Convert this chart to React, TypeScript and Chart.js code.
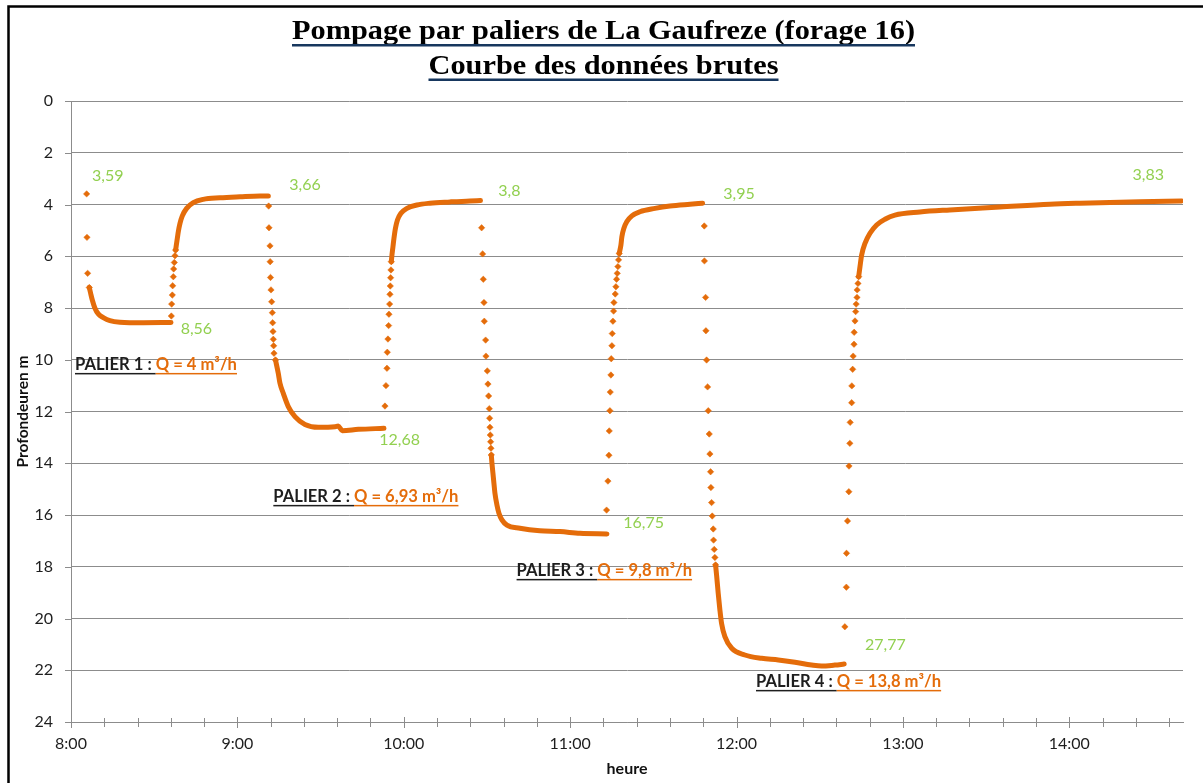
import React, { useEffect, useRef } from "react";
import { Chart, registerables } from "chart.js";

Chart.register(...registerables);

// ---------- data (time in decimal hours, depth in metres) ----------
const pompage1T = [8.094, 8.096, 8.1, 8.11, 8.118, 8.128, 8.144, 8.164, 8.194, 8.234, 8.294, 8.435, 8.601];
const pompage1D = [3.59, 5.27, 6.66, 7.21, 7.43, 7.69, 8.01, 8.23, 8.37, 8.49, 8.55, 8.57, 8.56];

const remontee1T = [8.603, 8.605, 8.609, 8.611, 8.615, 8.617, 8.621, 8.625, 8.629, 8.633, 8.639, 8.645, 8.655, 8.669, 8.695, 8.735, 8.795, 8.895, 9.016, 9.136, 9.186];
const remontee1D = [8.31, 7.85, 7.5, 7.14, 6.79, 6.49, 6.24, 5.98, 5.76, 5.57, 5.31, 5.05, 4.73, 4.44, 4.15, 3.93, 3.8, 3.74, 3.7, 3.67, 3.67];

const pompage2T = [9.188, 9.19, 9.196, 9.197, 9.199, 9.202, 9.206, 9.21, 9.212, 9.214, 9.216, 9.218, 9.22, 9.229, 9.246, 9.256, 9.276, 9.306, 9.346, 9.406, 9.486, 9.587, 9.606, 9.63, 9.727, 9.881];
const pompage2D = [4.06, 4.9, 5.6, 6.21, 6.82, 7.3, 7.76, 8.18, 8.57, 8.91, 9.21, 9.46, 9.75, 10.01, 10.53, 10.91, 11.3, 11.81, 12.2, 12.5, 12.61, 12.59, 12.56, 12.74, 12.69, 12.65];

const remontee2T = [9.887, 9.893, 9.899, 9.901, 9.905, 9.909, 9.911, 9.915, 9.917, 9.919, 9.921, 9.923, 9.925, 9.929, 9.935, 9.941, 9.95, 9.962, 9.983, 10.019, 10.079, 10.157, 10.278, 10.398, 10.461];
const remontee2D = [11.79, 11.0, 10.33, 9.71, 9.2, 8.68, 8.24, 7.85, 7.47, 7.15, 6.83, 6.53, 6.21, 5.95, 5.63, 5.31, 4.92, 4.6, 4.34, 4.15, 4.02, 3.95, 3.9, 3.86, 3.85];

const pompage3T = [10.468, 10.474, 10.478, 10.482, 10.484, 10.492, 10.494, 10.502, 10.506, 10.51, 10.514, 10.516, 10.518, 10.52, 10.522, 10.524, 10.526, 10.53, 10.536, 10.542, 10.548, 10.56, 10.572, 10.59, 10.62, 10.698, 10.818, 10.939, 11.059, 11.221];
const pompage3D = [4.9, 5.91, 6.89, 7.79, 8.51, 9.24, 9.86, 10.43, 10.94, 11.4, 11.89, 12.26, 12.61, 12.91, 13.17, 13.42, 13.68, 14.0, 14.39, 14.78, 15.16, 15.61, 15.93, 16.19, 16.39, 16.51, 16.61, 16.64, 16.71, 16.73];

const remontee3T = [11.219, 11.227, 11.233, 11.235, 11.239, 11.241, 11.245, 11.247, 11.251, 11.253, 11.257, 11.261, 11.263, 11.271, 11.275, 11.279, 11.283, 11.287, 11.291, 11.295, 11.305, 11.311, 11.323, 11.341, 11.371, 11.419, 11.51, 11.6, 11.72, 11.796];
const remontee3D = [15.81, 14.69, 13.69, 12.75, 11.97, 11.25, 10.59, 9.96, 9.46, 8.99, 8.51, 8.12, 7.79, 7.46, 7.18, 6.89, 6.66, 6.4, 6.14, 5.89, 5.57, 5.24, 4.92, 4.66, 4.44, 4.28, 4.15, 4.06, 3.99, 3.95];

const pompage4T = [11.806, 11.807, 11.814, 11.816, 11.82, 11.826, 11.83, 11.836, 11.84, 11.844, 11.846, 11.85, 11.854, 11.86, 11.862, 11.866, 11.87, 11.874, 11.88, 11.89, 11.9, 11.91, 11.93, 11.971, 12.05, 12.151, 12.251, 12.351, 12.451, 12.511, 12.591, 12.647];
const pompage4D = [4.83, 6.18, 7.59, 8.88, 10.01, 11.05, 11.97, 12.87, 13.64, 14.33, 14.94, 15.52, 16.04, 16.54, 16.97, 17.33, 17.64, 17.93, 18.32, 19.03, 19.67, 20.19, 20.7, 21.15, 21.41, 21.54, 21.6, 21.69, 21.8, 21.84, 21.8, 21.76];

const remontee4T = [12.651, 12.66, 12.661, 12.667, 12.675, 12.676, 12.681, 12.683, 12.692, 12.693, 12.698, 12.701, 12.706, 12.707, 12.712, 12.716, 12.719, 12.724, 12.725, 12.73, 12.734, 12.742, 12.752, 12.772, 12.802, 12.842, 12.892, 12.952, 13.102, 13.282, 13.583, 13.883, 14.064, 14.244, 14.424, 14.675];
const remontee4D = [20.32, 18.79, 17.48, 16.23, 15.1, 14.11, 13.23, 12.42, 11.66, 11.01, 10.37, 9.86, 9.4, 8.94, 8.5, 8.14, 7.85, 7.59, 7.3, 7.05, 6.79, 6.4, 5.95, 5.5, 5.11, 4.79, 4.57, 4.41, 4.29, 4.21, 4.1, 3.99, 3.95, 3.92, 3.89, 3.86];

const phaseTimes = [pompage1T, remontee1T, pompage2T, remontee2T, pompage3T, remontee3T, pompage4T, remontee4T];
const phaseDepths = [pompage1D, remontee1D, pompage2D, remontee2D, pompage3D, remontee3D, pompage4D, remontee4D];
// index from which the readings are so close together that they merge into a continuous band
const phaseDenseFrom = [3, 8, 13, 12, 16, 19, 17, 20];

// axes
const xMin = 8;
const xMax = 14 + 41 / 60;
const xStep = 0.2; // 12 minutes
const yMin = 0;
const yMax = 24;
const yStep = 2;

// value labels (green)
const valueLabels = ["3,59", "8,56", "3,66", "12,68", "3,8", "16,75", "3,95", "27,77", "3,83"];
const valueLabelT = [8.126, 8.659, 9.312, 9.853, 10.568, 11.319, 11.92, 12.772, 14.38];
const valueLabelD = [2.9, 8.81, 3.25, 13.1, 3.48, 16.31, 3.59, 21.02, 2.86];

// step annotations
const palierNames = ["PALIER 1 : ", "PALIER 2 : ", "PALIER 3 : ", "PALIER 4 : "];
const palierDebits = ["Q = 4 m³/h", "Q = 6,93 m³/h", "Q = 9,8 m³/h", "Q = 13,8 m³/h"];
const palierT = [8.024, 9.216, 10.678, 12.117];
const palierD = [10.2, 15.3, 18.16, 22.45];

const titleLines = ["Pompage par paliers de La Gaufreze (forage 16)", "Courbe des données brutes"];

// ---------- styles ----------
const ORANGE = "#E46C0A";
const GREEN = "#92D050";
const GRID = "#8C8C8C";
const TEXT = "#1E1E1E";
const SANS = "Lato, 'Open Sans', sans-serif";

function isHour(v: number) {
  return Math.abs(v - Math.round(v)) < 1e-6;
}

const decorPlugin = {
  id: "decor",
  beforeDatasetsDraw(chart: any) {
    const { ctx, scales, chartArea } = chart;
    const xs = scales.x;
    const ys = scales.y;
    ctx.save();
    ctx.strokeStyle = GRID;
    ctx.lineWidth = 1;
    ctx.beginPath();
    xs.ticks.forEach((t: any) => {
      const px = Math.round(xs.getPixelForValue(t.value)) + 0.5;
      const h = isHour(t.value) ? 5 : 4;
      ctx.moveTo(px, chartArea.bottom - h);
      ctx.lineTo(px, chartArea.bottom + h + 1);
    });
    ys.ticks.forEach((t: any) => {
      const py = Math.round(ys.getPixelForValue(t.value)) + 0.5;
      ctx.moveTo(chartArea.left - 6, py);
      ctx.lineTo(chartArea.left, py);
    });
    ctx.stroke();
    ctx.restore();
  },
  afterDraw(chart: any) {
    const { ctx, scales, width, height } = chart;
    const xs = scales.x;
    const ys = scales.y;
    ctx.save();

    // outer frame
    ctx.strokeStyle = "#000";
    ctx.lineWidth = 2.5;
    ctx.beginPath();
    ctx.moveTo(8.5, height + 5);
    ctx.lineTo(8.5, 6.5);
    ctx.lineTo(width + 5, 6.5);
    ctx.stroke();

    // title
    const titleWidths = [623, 350];
    const titleBase = [38.5, 74];
    const underlineY = [45, 79.5];
    const cx = 603.5;
    ctx.font = "bold 27px 'Liberation Serif', serif";
    ctx.textBaseline = "alphabetic";
    titleLines.forEach((line, i) => {
      const w = ctx.measureText(line).width;
      const sx = titleWidths[i] / w;
      ctx.save();
      ctx.translate(cx - titleWidths[i] / 2, titleBase[i]);
      ctx.scale(sx, 1);
      ctx.fillStyle = "#000";
      ctx.textAlign = "left";
      ctx.fillText(line, 0, 0);
      ctx.restore();
      ctx.fillStyle = "#17375E";
      ctx.fillRect(cx - titleWidths[i] / 2, underlineY[i] - 1, titleWidths[i], 2.5);
    });

    // green value labels
    ctx.font = `16px ${SANS}`;
    ctx.fillStyle = GREEN;
    ctx.textAlign = "left";
    ctx.textBaseline = "middle";
    valueLabels.forEach((txt, i) => {
      ctx.fillText(txt, xs.getPixelForValue(valueLabelT[i]), ys.getPixelForValue(valueLabelD[i]));
    });

    // step annotations
    ctx.font = `bold 16.6px ${SANS}`;
    palierNames.forEach((name, i) => {
      const x0 = xs.getPixelForValue(palierT[i]);
      const yc = ys.getPixelForValue(palierD[i]);
      const w1 = ctx.measureText(name).width;
      const w2 = ctx.measureText(palierDebits[i]).width;
      ctx.fillStyle = TEXT;
      ctx.fillText(name, x0, yc);
      ctx.fillRect(x0, yc + 8, w1, 1.5);
      ctx.fillStyle = ORANGE;
      ctx.fillText(palierDebits[i], x0 + w1, yc);
      ctx.fillRect(x0 + w1, yc + 8, w2, 1.5);
    });
    ctx.restore();
  },
};

export default function App() {
  const canvasRef = useRef<HTMLCanvasElement | null>(null);

  useEffect(() => {
    document.body.style.margin = "0";
    document.body.style.overflow = "hidden";
    const canvas = canvasRef.current;
    if (!canvas) return;

    const dots: any[] = [];
    const curve: any[] = [];
    phaseTimes.forEach((times, p) => {
      const depths = phaseDepths[p];
      const from = phaseDenseFrom[p];
      times.forEach((t, j) => {
        if (j <= from) dots.push({ x: t, y: depths[j] });
        if (j >= from) curve.push({ x: t, y: depths[j] });
      });
      curve.push({ x: times[times.length - 1], y: null });
    });

    const chart = new Chart(canvas, {
      type: "scatter",
      data: {
        datasets: [
          {
            label: "courbe",
            data: curve,
            showLine: true,
            borderColor: ORANGE,
            borderWidth: 5,
            borderCapStyle: "round",
            borderJoinStyle: "round",
            cubicInterpolationMode: "monotone",
            spanGaps: false,
            pointRadius: 0,
          } as any,
          {
            label: "mesures",
            data: dots,
            showLine: false,
            pointStyle: "rectRot",
            pointRadius: 3.2,
            pointBackgroundColor: ORANGE,
            pointBorderColor: ORANGE,
            pointBorderWidth: 0.5,
          } as any,
        ],
      },
      options: {
        responsive: false,
        animation: false,
        devicePixelRatio: 1,
        layout: { padding: { left: 10, right: 20, top: 101, bottom: 0 } },
        plugins: {
          legend: { display: false },
          tooltip: { enabled: false },
          title: { display: false },
        },
        scales: {
          x: {
            type: "linear",
            min: xMin,
            max: xMax,
            afterFit: (s: any) => {
              s.height = 61;
            },
            grid: { display: false, drawTicks: false },
            border: { display: true, color: GRID, width: 1 },
            ticks: {
              stepSize: xStep,
              includeBounds: false,
              autoSkip: false,
              maxRotation: 0,
              minRotation: 0,
              padding: 12,
              color: TEXT,
              font: { family: SANS, size: 16 },
              callback: (v: any) => (isHour(Number(v)) ? `${Math.round(Number(v))}:00` : ""),
            },
            title: {
              display: true,
              text: "heure",
              color: "#111",
              font: { family: SANS, size: 16, weight: "bold" },
              padding: { top: 0, bottom: 5 },
            },
          },
          y: {
            type: "linear",
            reverse: true,
            min: yMin,
            max: yMax,
            afterFit: (s: any) => {
              s.width = 61;
            },
            grid: { color: GRID, lineWidth: 1, drawTicks: false },
            border: { display: true, color: GRID, width: 1 },
            ticks: {
              stepSize: yStep,
              padding: 18,
              color: TEXT,
              font: { family: SANS, size: 16 },
            },
            title: {
              display: true,
              text: "Profondeuren m",
              color: "#111",
              font: { family: SANS, size: 15.5, weight: "bold" },
              padding: { top: 4, bottom: 0 },
            },
          },
        },
      } as any,
      plugins: [decorPlugin],
    });

    return () => {
      chart.destroy();
    };
  }, []);

  return (
    <div style={{ position: "fixed", left: 0, top: 0, width: 1203, height: 783, background: "#fff" }}>
      <canvas ref={canvasRef} width={1203} height={783} />
    </div>
  );
}
